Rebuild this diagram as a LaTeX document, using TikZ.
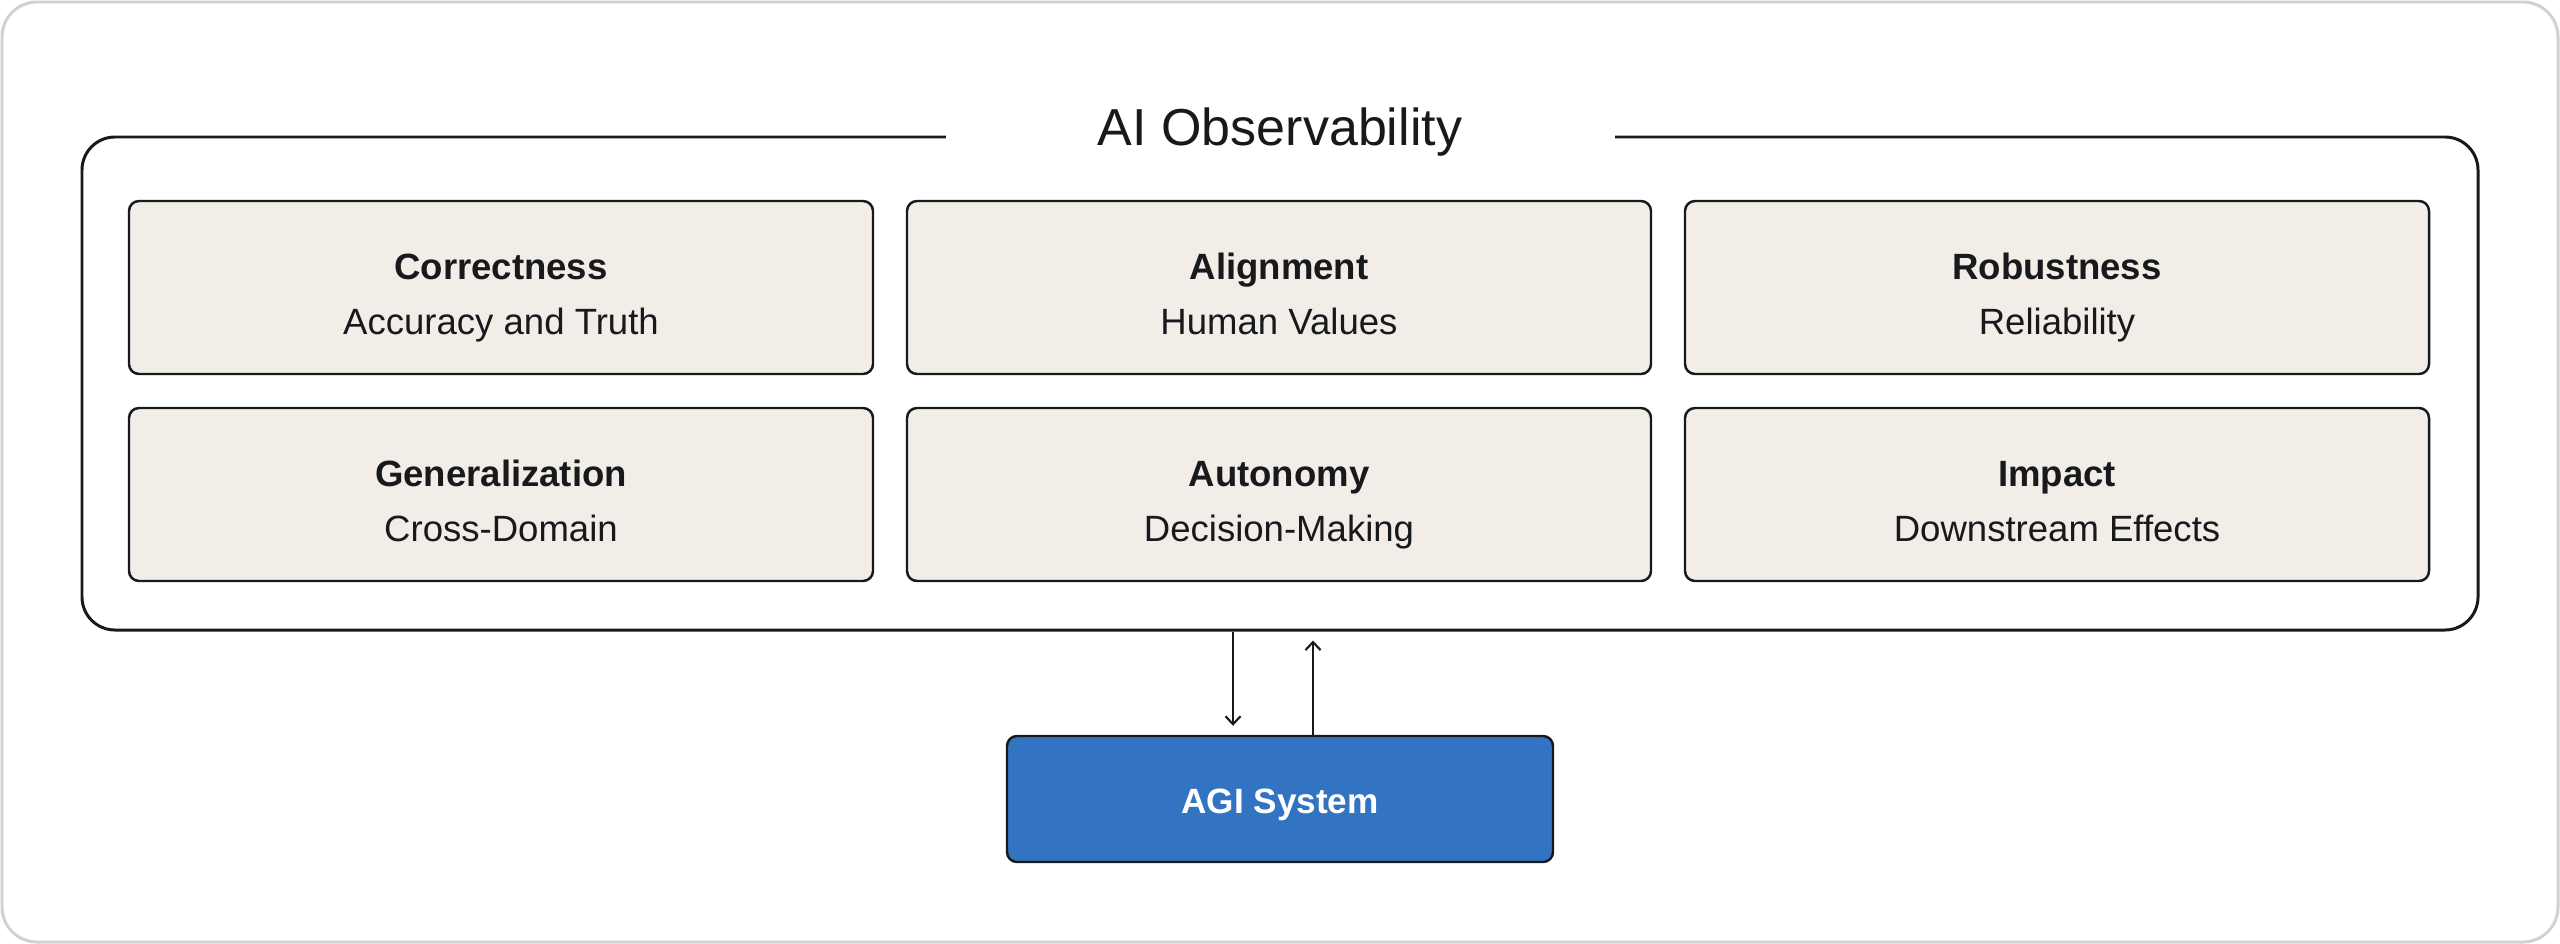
\documentclass[tikz,border=0pt]{standalone}
\usepackage{fontspec}
\setmainfont{Liberation Sans}
\usetikzlibrary{positioning}
\usetikzlibrary{arrows.meta}
\definecolor{inkDark}{HTML}{17191C}
\definecolor{frameGray}{HTML}{D0D0D6}
\definecolor{cardFill}{HTML}{F2EDE7}
\definecolor{agiBlue}{HTML}{3274C1}
\newcommand{\cardText}[2]{%%
  \rule{0pt}{13.6pt}{\bfseries #1}\\\rule[-2.5pt]{0pt}{2.5pt}#2%%
}
\begin{document}
\begin{tikzpicture}[%%
  containerStyle/.style={draw=inkDark,line width=0.85pt,rounded corners=0.33cm,
    minimum width=23.96cm,minimum height=4.93cm},%%
  cardStyle/.style={draw=inkDark,line width=0.7pt,fill=cardFill,rounded corners=0.1cm,
    minimum width=7.44cm,minimum height=1.73cm,outer sep=0pt,inner sep=1pt,
    text=inkDark,align=center,font=\fontsize{10.4}{15.9}\selectfont},%%
  titleStyle/.style={fill=white,minimum width=6.69cm,inner sep=0pt,text depth=0pt,
    text=inkDark,font=\fontsize{14.8}{17}\selectfont},%%
  agiStyle/.style={draw=inkDark,line width=0.7pt,fill=agiBlue,rounded corners=0.1cm,
    minimum width=5.46cm,minimum height=1.26cm,text=white,text height=8.5pt,text depth=0pt,
    font=\fontsize{10}{12}\selectfont\bfseries},%%
  flowStyle/.style={draw=inkDark,line width=0.6pt,-{Straight Barb[length=0.8mm,width=1.5mm]}},%%
]
%%
%% The page with its light frame.
\useasboundingbox (0,0) rectangle (25.6,-9.44);
\draw[frameGray,line width=0.85pt,rounded corners=0.35cm] (0.02,-0.02) rectangle (25.58,-9.42);
%%
%% The observability container and its title.
\node[containerStyle] (obs) at (12.80,-3.835) {};
\node[titleStyle,anchor=base,yshift=-0.1cm] (obsTitle) at (obs.north) {AI Observability};
%%
%% The six cards.
\node[cardStyle] (correct) at (5.01,-2.875) {\cardText{Correctness}{Accuracy and Truth}};
\node[cardStyle,right=0.34cm of correct] (align) {\cardText{Alignment}{Human Values}};
\node[cardStyle,right=0.34cm of align] (robust) {\cardText{Robustness}{Reliability}};
\node[cardStyle,below=0.34cm of correct] (general) {\cardText{Generalization}{Cross-Domain}};
\node[cardStyle,below=0.34cm of align] (autonomy) {\cardText{Autonomy}{Decision-Making}};
\node[cardStyle,below=0.34cm of robust] (impact) {\cardText{Impact}{Downstream Effects}};
%%
%% The system being observed.
\node[agiStyle] (agi) at (12.80,-7.99) {AGI System};
%%
%% Flows between the container and the system.
\draw[flowStyle,shorten >=0.09cm] ([xshift=-0.47cm]obs.south) -- ([xshift=-0.47cm]agi.north);
\draw[flowStyle,shorten >=0.09cm] ([xshift=0.33cm]agi.north) -- ([xshift=0.33cm]obs.south);
\end{tikzpicture}
\end{document}
